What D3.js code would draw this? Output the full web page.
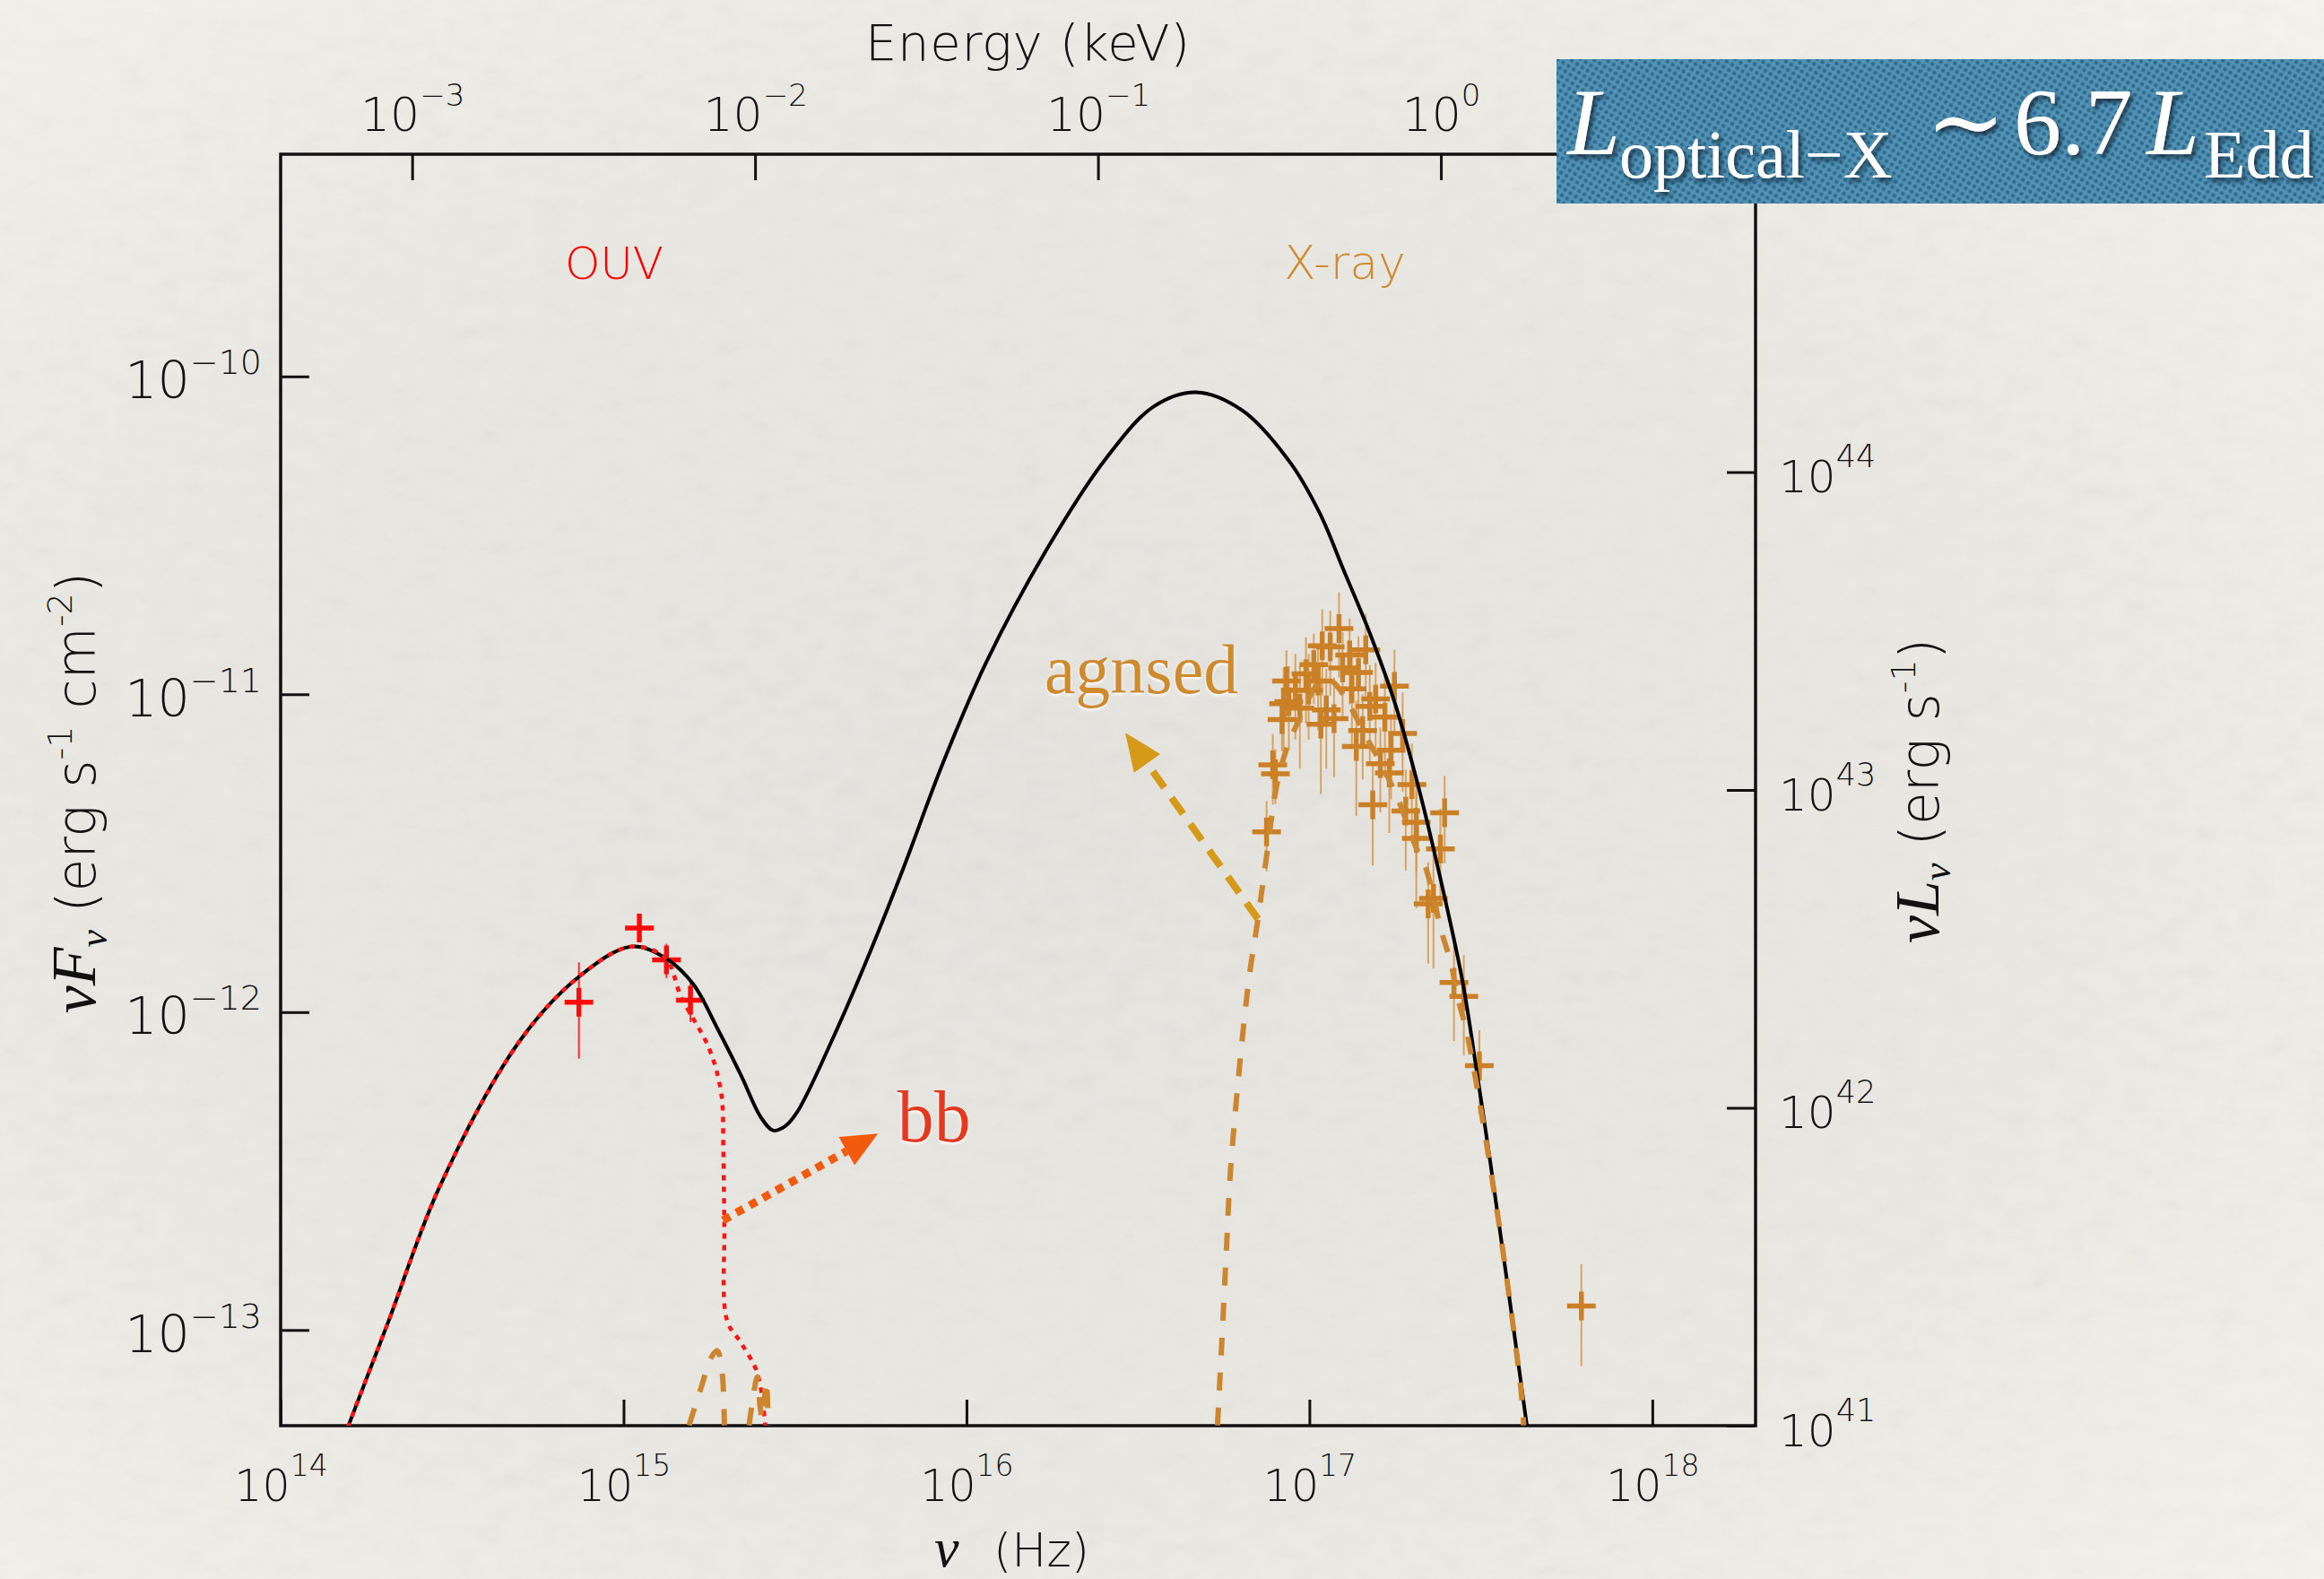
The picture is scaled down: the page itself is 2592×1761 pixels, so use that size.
<!DOCTYPE html>
<html>
<head>
<meta charset="utf-8">
<script src="https://cdn.jsdelivr.net/npm/d3@7"></script>
<style>
  html, body { margin: 0; padding: 0; background: #f1efe9; }
  svg { display: block; }
</style>
</head>
<body>
<svg id="chart" width="2592" height="1761"></svg>
<script>
// ---------------- axes ----------------
const freqDomain = [1e14, 2e18];          // nu (Hz)
const fluxDomain = [5e-14, 5e-10];        // nu F_nu (erg s^-1 cm^-2)
const hzPerKeV = 2.418e17;                // E = h nu
const lumPerFlux = 2.0e54;                // 4 pi d^2 (cm^2)
const freqTicks = [1e14, 1e15, 1e16, 1e17, 1e18];
const fluxTicks = [1e-13, 1e-12, 1e-11, 1e-10];
const energyTicks = [1e-3, 1e-2, 1e-1, 1];
const lumTicks = [1e41, 1e42, 1e43, 1e44];

// ---------------- models (log10 nu, log10 nuFnu) ----------------
const totalLogNu = [14.16, 14.197, 14.313, 14.465, 14.699, 14.874, 15.022, 15.121, 15.203, 15.273,
  15.343, 15.40, 15.436, 15.47, 15.506, 15.611, 15.705, 15.815, 15.93, 16.057, 16.232, 16.407, 16.547, 16.670,
  16.804, 16.944, 17.03, 17.10, 17.177, 17.25, 17.32, 17.38, 17.446, 17.490, 17.529, 17.634, 17.66];
const totalLogFlux = [-13.41, -13.303, -12.977, -12.546, -12.088, -11.885, -11.794, -11.829, -11.912, -12.05,
  -12.20, -12.33, -12.372, -12.36, -12.315, -12.081, -11.847, -11.55, -11.22, -10.901, -10.548, -10.258, -10.094, -10.050,
  -10.107, -10.271, -10.43, -10.61, -10.81, -11.03, -11.30, -11.57, -11.90, -12.201, -12.483, -13.30, -13.52];

const bbLogNu = [14.16, 14.197, 14.313, 14.465, 14.699, 14.874, 15.022, 15.121, 15.168, 15.250,
  15.285, 15.291, 15.294, 15.302, 15.343, 15.390, 15.413];
const bbLogFlux = [-13.41, -13.303, -12.977, -12.546, -12.088, -11.885, -11.794, -11.829, -11.952, -12.116,
  -12.257, -12.432, -12.666, -12.971, -13.041, -13.135, -13.30];

// agnsed: separate pieces, null marks a break
const agnsedLogNu = [15.191, 15.226, 15.255, 15.273, 15.287, 15.294, null,
  15.366, 15.390, 15.398, 15.405, 15.416, 15.422, null,
  16.732, 16.745, 16.758, 16.771, 16.821, 16.850, 16.874, 16.909, 16.955, 17.049, 17.181, 17.233,
  17.259, 17.316, 17.338, 17.386, 17.412, 17.433, 17.460, 17.547, 17.617, 17.625];
const agnsedLogFlux = [-13.30, -13.182, -13.088, -13.065, -13.129, -13.30, null,
  -13.30, -13.147, -13.24, -13.28, -13.16, -13.30, null,
  -13.30, -13.029, -12.747, -12.483, -11.919, -11.707, -11.518, -11.266, -11.115, -10.951, -11.164, -11.270,
  -11.331, -11.495, -11.542, -11.749, -11.843, -11.956, -12.069, -12.624, -13.189, -13.30];

// ---------------- data ----------------
const ouvNu   = [7.41e14, 1.112e15, 1.334e15, 1.567e15];
const ouvFlux = [1.074e-12, 1.84e-12, 1.46e-12, 1.09e-12];
const ouvErr  = [3.6e-13, 5e-14, 1.8e-13, 1.6e-13];

const xrayNu = [7.50e16, 7.82e16, 7.96e16, 8.32e16, 8.41e16, 8.57e16, 8.71e16, 9.77e16, 1.03e17, 1.08e17,
  1.09e17, 1.12e17, 1.15e17, 1.18e17, 1.22e17, 1.31e17, 1.33e17, 1.37e17, 1.43e17, 1.46e17,
  1.50e17, 1.53e17, 1.56e17, 1.61e17, 1.73e17, 1.71e17, 1.77e17, 1.87e17, 1.91e17, 2.05e17,
  2.05e17, 2.22e17, 2.30e17, 2.41e17, 2.48e17, 2.64e17, 2.82e17, 3.13e17, 6.21e17, 9.10e16,
  9.38e16, 9.95e16, 1.06e17, 1.25e17, 1.39e17, 1.66e17, 1.99e17];
const xrayFlux = [3.69e-12, 6.00e-12, 5.62e-12, 8.32e-12, 9.35e-12, 1.10e-11, 9.48e-12, 1.16e-11, 1.24e-11, 8.05e-12,
  1.42e-11, 8.93e-12, 1.41e-11, 8.38e-12, 1.61e-11, 1.33e-11, 1.04e-11, 6.85e-12, 7.69e-12, 1.38e-11,
  9.16e-12, 4.49e-12, 9.66e-12, 6.05e-12, 6.67e-12, 5.66e-12, 1.06e-11, 7.53e-12, 4.29e-12, 3.96e-12,
  3.52e-12, 2.19e-12, 2.28e-12, 3.26e-12, 4.24e-12, 1.24e-12, 1.12e-12, 6.78e-13, 1.19e-13, 1.03e-11,
  9.04e-12, 1.03e-11, 1.10e-11, 1.21e-11, 1.17e-11, 8.47e-12, 5.20e-12];
const xrayErr = [9.2e-13, 1.5e-12, 1.1e-12, 1.7e-12, 2.8e-12, 2.75e-12, 2.8e-12, 3.5e-12, 3.1e-12, 3.2e-12,
  4.3e-12, 3.1e-12, 4.2e-12, 2.9e-12, 4.8e-12, 4.0e-12, 3.6e-12, 2.7e-12, 2.3e-12, 4.1e-12,
  3.2e-12, 1.6e-12, 2.9e-12, 1.8e-12, 2.0e-12, 2.0e-12, 3.2e-12, 2.6e-12, 1.5e-12, 1.2e-12,
  1.4e-12, 7.7e-13, 9.1e-13, 1.1e-12, 1.3e-12, 4.3e-13, 3.9e-13, 2.0e-13, 4.2e-14, 3.1e-12,
  3.2e-12, 3.1e-12, 3.3e-12, 3.6e-12, 3.5e-12, 3.0e-12, 1.8e-12];

// annotation anchors (nu, nuFnu)
const bbArrowFrom = [Math.pow(10, 15.290), Math.pow(10, -12.655)];
const bbArrowTo   = [Math.pow(10, 15.742), Math.pow(10, -12.382)];
const agnArrowFrom = [Math.pow(10, 16.850), Math.pow(10, -11.707)];
const agnArrowTo   = [Math.pow(10, 16.463), Math.pow(10, -11.121)];
const bbLabelAt  = [Math.pow(10, 15.798), Math.pow(10, -12.408)];
const agnLabelAt = [Math.pow(10, 16.227), Math.pow(10, -10.996)];

// ---------------- layout ----------------
const W = 2592, H = 1761;
const M = { left: 313, right: 1958, top: 172, bottom: 1590 };
const SANS = "'DejaVu Sans', 'Liberation Sans', sans-serif";
const SERIF = "'Liberation Serif', 'DejaVu Serif', serif";
const ITAL = "'Liberation Serif', 'DejaVu Serif', serif";

const svg = d3.select('#chart');
const defs = svg.append('defs');

// paper background
const rg = defs.append('radialGradient').attr('id', 'paperShade')
  .attr('cx', '0.45').attr('cy', '0.52').attr('r', '0.75');
rg.append('stop').attr('offset', '0').attr('stop-color', '#e5e3de');
rg.append('stop').attr('offset', '0.6').attr('stop-color', '#ebe9e3');
rg.append('stop').attr('offset', '1').attr('stop-color', '#f6f3ec');
const grain = defs.append('filter').attr('id', 'grain').attr('x', 0).attr('y', 0).attr('width', 1).attr('height', 1);
grain.append('feTurbulence').attr('type', 'fractalNoise').attr('baseFrequency', '0.03 0.05')
  .attr('numOctaves', 4).attr('seed', 7).attr('result', 'n');
grain.append('feColorMatrix').attr('type', 'saturate').attr('values', 0);
svg.append('rect').attr('width', W).attr('height', H).attr('fill', 'url(#paperShade)');
svg.append('rect').attr('width', W).attr('height', H).attr('filter', 'url(#grain)').attr('opacity', 0.08);

// clip to the frame
defs.append('clipPath').attr('id', 'plotClip').append('rect')
  .attr('x', M.left).attr('y', M.top).attr('width', M.right - M.left).attr('height', M.bottom - M.top);

// filters for annotation text
const glow = defs.append('filter').attr('id', 'glow').attr('x', '-10%').attr('y', '-20%').attr('width', '130%').attr('height', '150%');
glow.append('feDropShadow').attr('dx', 0).attr('dy', 2).attr('stdDeviation', 1.5)
  .attr('flood-color', '#ffffff').attr('flood-opacity', 0.95);
const shadow = defs.append('filter').attr('id', 'boxShadow').attr('x', '-10%').attr('y', '-20%').attr('width', '130%').attr('height', '160%');
shadow.append('feDropShadow').attr('dx', 3).attr('dy', 4).attr('stdDeviation', 2.5)
  .attr('flood-color', '#0b2233').attr('flood-opacity', 0.8);

// dotted blue fill for the luminosity badge
const pat = defs.append('pattern').attr('id', 'dots').attr('width', 7).attr('height', 7)
  .attr('patternUnits', 'userSpaceOnUse').attr('patternTransform', 'rotate(32)');
pat.append('rect').attr('width', 7).attr('height', 7).attr('fill', '#5192b5');
pat.append('circle').attr('cx', 3.5).attr('cy', 3.5).attr('r', 2.3).attr('fill', '#2f6b8e');

// ---------------- scales ----------------
const x = d3.scaleLog().domain(freqDomain).range([M.left, M.right]);
const y = d3.scaleLog().domain(fluxDomain).range([M.bottom, M.top]);
const xE = d3.scaleLog().domain(freqDomain.map(v => v / hzPerKeV)).range([M.left, M.right]);
const yL = d3.scaleLog().domain(fluxDomain.map(v => v * lumPerFlux)).range([M.bottom, M.top]);

// ---------------- axes ----------------
function expLabels(g, baseSize, supSize, supDy, place) {
  g.selectAll('.tick text').each(function (d) {
    const e = Math.round(Math.log10(d));
    const t = d3.select(this).text(null).attr('dy', null);
    place(t);
    t.append('tspan').attr('font-size', baseSize).text('10');
    t.append('tspan').attr('font-size', supSize).attr('dy', supDy)
      .text(e < 0 ? '\u2212' + (-e) : String(e));
  });
}
function axisStyle(g) {
  g.attr('font-family', SANS).attr('color', '#111').attr('font-weight', 300);
  g.select('.domain').remove();
  g.selectAll('.tick line').attr('stroke-width', 3);
}

const gB = svg.append('g').attr('transform', `translate(0,${M.bottom})`)
  .call(d3.axisBottom(x).tickValues(freqTicks).tickSizeInner(-29).tickSizeOuter(0));
axisStyle(gB);
expLabels(gB, 49, 33, -28, t => t.attr('y', 84));

const gT = svg.append('g').attr('transform', `translate(0,${M.top})`)
  .call(d3.axisTop(xE).tickValues(energyTicks).tickSizeInner(-29).tickSizeOuter(0));
axisStyle(gT);
expLabels(gT, 52, 34, -28, t => t.attr('y', -26));

const gL = svg.append('g').attr('transform', `translate(${M.left},0)`)
  .call(d3.axisLeft(y).tickValues(fluxTicks).tickSizeInner(-32).tickSizeOuter(0));
axisStyle(gL);
expLabels(gL, 57, 38, -27, t => t.attr('x', -21).attr('y', 24));

const gR = svg.append('g').attr('transform', `translate(${M.right},0)`)
  .call(d3.axisRight(yL).tickValues(lumTicks).tickSizeInner(-32).tickSizeOuter(0));
axisStyle(gR);
expLabels(gR, 50, 35, -28, t => t.attr('x', 26).attr('y', 22));

// frame
svg.append('rect').attr('x', M.left).attr('y', M.top)
  .attr('width', M.right - M.left).attr('height', M.bottom - M.top)
  .attr('fill', 'none').attr('stroke', '#111').attr('stroke-width', 3.5);

// ---------------- axis titles ----------------
svg.append('text').attr('x', 1146).attr('y', 67).attr('text-anchor', 'middle')
  .attr('font-family', SANS).attr('font-weight', 300).attr('font-size', 56).attr('fill', '#111')
  .attr('textLength', 362).attr('lengthAdjust', 'spacing')
  .text('Energy (keV)');

svg.append('text').attr('x', 1042).attr('y', 1747)
  .attr('font-family', ITAL).attr('font-style', 'italic').attr('font-size', 62).attr('fill', '#111').text('\u03bd');
svg.append('text').attr('x', 1108).attr('y', 1747)
  .attr('font-family', SANS).attr('font-weight', 300).attr('font-size', 52).attr('fill', '#111').text('(Hz)');

function rotatedTitle(cx, cy, symbol, units) {
  const t = svg.append('text').attr('transform', `translate(${cx},${cy}) rotate(-90)`)
    .attr('text-anchor', 'middle').attr('font-size', 60).attr('fill', '#111')
    .attr('font-family', SANS).attr('font-weight', 300);
  t.append('tspan').attr('font-family', ITAL).attr('font-style', 'italic').attr('font-size', 70).text('\u03bd' + symbol);
  t.append('tspan').attr('font-family', ITAL).attr('font-style', 'italic').attr('font-size', 44).attr('dy', 13).text('\u03bd');
  t.append('tspan').attr('dy', -13).text(' (erg s');
  t.append('tspan').attr('font-size', 38).attr('dy', -26).text('-1');
  if (units) {
    t.append('tspan').attr('dy', 26).text(' cm');
    t.append('tspan').attr('font-size', 38).attr('dy', -26).text('-2');
  }
  t.append('tspan').attr('dy', 26).text(')');
}
rotatedTitle(106, 884, 'F', true);
rotatedTitle(2162, 882, 'L', false);

// ---------------- region labels ----------------
svg.append('text').attr('x', 685).attr('y', 311).attr('text-anchor', 'middle')
  .attr('font-family', SANS).attr('font-weight', 300).attr('font-size', 50).attr('fill', '#ff0000').text('OUV');
svg.append('text').attr('x', 1432).attr('y', 311)
  .attr('font-family', SANS).attr('font-weight', 300).attr('font-size', 52).attr('fill', '#cf8a2e')
  .text('X-ray');

// ---------------- data + models ----------------
const plot = svg.append('g').attr('clip-path', 'url(#plotClip)');

function crosses(nu, flux, err, color, errColor) {
  const g = plot.append('g');
  const idx = d3.range(nu.length);
  g.selectAll('line.err').data(idx).join('line')
    .attr('x1', i => x(nu[i])).attr('x2', i => x(nu[i]))
    .attr('y1', i => y(flux[i] + err[i])).attr('y2', i => y(Math.max(flux[i] - err[i], 1e-15)))
    .attr('stroke', errColor).attr('stroke-width', 2);
  g.selectAll('line.h').data(idx).join('line')
    .attr('x1', i => x(nu[i]) - 16).attr('x2', i => x(nu[i]) + 16)
    .attr('y1', i => y(flux[i])).attr('y2', i => y(flux[i]))
    .attr('stroke', color).attr('stroke-width', 5.5);
  g.selectAll('line.v').data(idx).join('line')
    .attr('x1', i => x(nu[i])).attr('x2', i => x(nu[i]))
    .attr('y1', i => y(flux[i]) - 16).attr('y2', i => y(flux[i]) + 16)
    .attr('stroke', color).attr('stroke-width', 5.5);
}
crosses(xrayNu, xrayFlux, xrayErr, '#cc8025', 'rgba(214,150,75,0.85)');
crosses(ouvNu, ouvFlux, ouvErr, '#ff0a0a', '#ff2a2a');

const line = d3.line()
  .defined(d => d[0] !== null)
  .x(d => x(Math.pow(10, d[0])))
  .y(d => y(Math.pow(10, d[1])))
  .curve(d3.curveCatmullRom.alpha(0.5));
const zipLog = (a, b) => a.map((v, i) => [v, b[i]]);

plot.append('path').datum(zipLog(totalLogNu, totalLogFlux)).attr('d', line)
  .attr('fill', 'none').attr('stroke', '#000').attr('stroke-width', 4);
plot.append('path').datum(zipLog(bbLogNu, bbLogFlux)).attr('d', line)
  .attr('fill', 'none').attr('stroke', '#ff1414').attr('stroke-width', 4.5)
  .attr('stroke-dasharray', '6 7');
plot.append('path').datum(zipLog(agnsedLogNu, agnsedLogFlux)).attr('d', line)
  .attr('fill', 'none').attr('stroke', '#cc8630').attr('stroke-width', 6)
  .attr('stroke-dasharray', '20 19');

// ---------------- annotations ----------------
function arrow(from, to, color, width, dash, headLen, headHalf) {
  const x0 = x(from[0]), y0 = y(from[1]), x1 = x(to[0]), y1 = y(to[1]);
  const L = Math.hypot(x1 - x0, y1 - y0), ux = (x1 - x0) / L, uy = (y1 - y0) / L;
  const bx = x1 - ux * headLen, by = y1 - uy * headLen;
  svg.append('line').attr('x1', x0).attr('y1', y0).attr('x2', bx).attr('y2', by)
    .attr('stroke', color).attr('stroke-width', width).attr('stroke-dasharray', dash);
  svg.append('polygon')
    .attr('points', [[x1, y1], [bx - uy * headHalf, by + ux * headHalf], [bx + uy * headHalf, by - ux * headHalf]].join(' '))
    .attr('fill', color);
}
arrow(bbArrowFrom, bbArrowTo, '#f25a0e', 9, '9 8', 40, 18);
arrow(agnArrowFrom, agnArrowTo, '#d69a18', 8, '22 14', 42, 18);

svg.append('text').attr('x', x(bbLabelAt[0])).attr('y', y(bbLabelAt[1]))
  .attr('font-family', SERIF).attr('font-size', 82).attr('fill', '#e5381f').attr('filter', 'url(#glow)').text('bb');
svg.append('text').attr('x', x(agnLabelAt[0])).attr('y', y(agnLabelAt[1]))
  .attr('font-family', SERIF).attr('font-size', 78).attr('fill', '#cf8a2a').attr('filter', 'url(#glow)').text('agnsed');

// ---------------- luminosity badge ----------------
svg.append('rect').attr('x', 1736).attr('y', 66).attr('width', W - 1736).attr('height', 161).attr('fill', 'url(#dots)');
const badge = svg.append('g').attr('fill', '#ffffff').attr('font-family', SERIF).attr('filter', 'url(#boxShadow)');
badge.append('text').attr('x', 1748).attr('y', 172).attr('font-size', 106).attr('font-style', 'italic').text('L');
badge.append('text').attr('x', 1806).attr('y', 198).attr('font-size', 76).text('optical\u2212X');
badge.append('text').attr('x', 2148).attr('y', 172).attr('font-size', 106).text('\u223c');
badge.append('text').attr('x', 2246).attr('y', 172).attr('font-size', 106).text('6.7');
badge.append('text').attr('x', 2394).attr('y', 172).attr('font-size', 106).attr('font-style', 'italic').text('L');
badge.append('text').attr('x', 2458).attr('y', 198).attr('font-size', 76).text('Edd');
</script>
</body>
</html>
